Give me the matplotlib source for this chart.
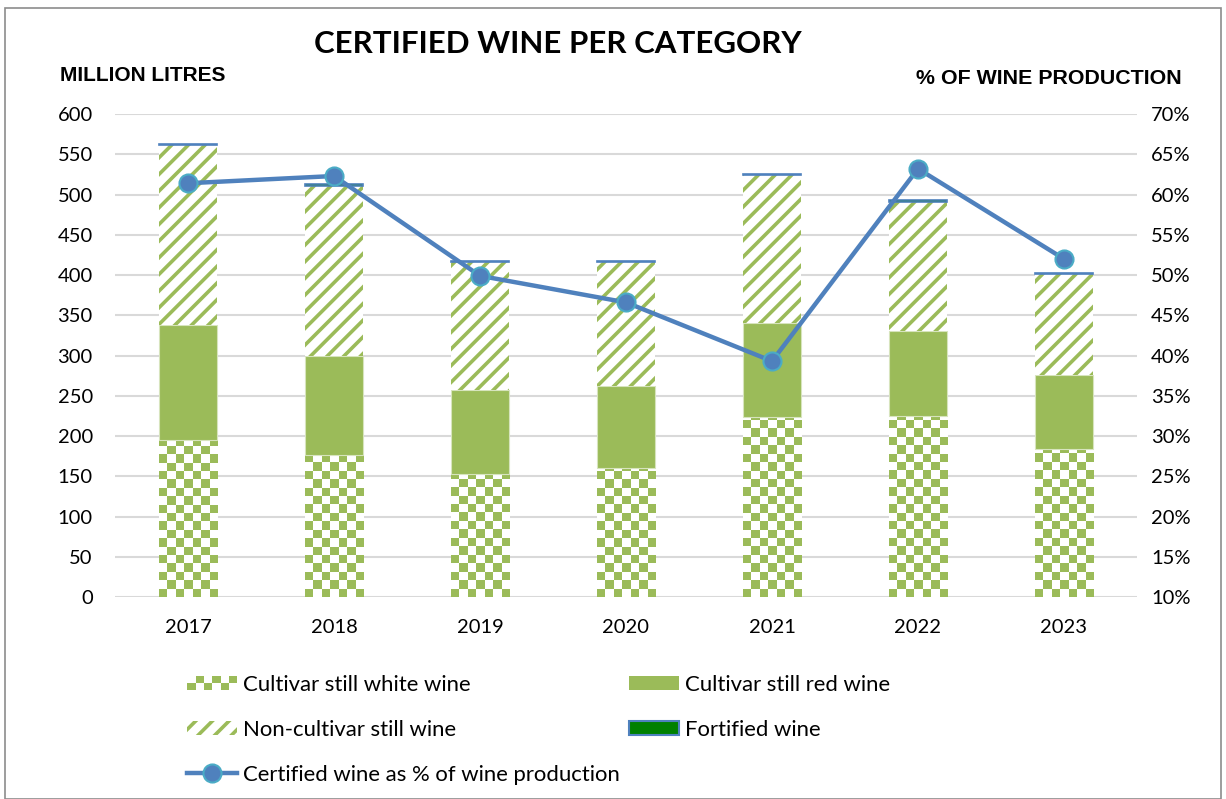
import numpy as np
import matplotlib
matplotlib.use("Agg")
import matplotlib.pyplot as plt
from matplotlib.patches import Rectangle, Patch
from matplotlib.lines import Line2D
from matplotlib.legend_handler import HandlerBase

# data (million litres / %)
years = ["2017", "2018", "2019", "2020", "2021", "2022", "2023"]
white = [195, 176, 153, 160, 224, 225, 184]
red = [143, 124, 104, 102, 116, 105, 92]
noncult = [223, 211, 159, 154, 184, 161, 125]
fortified = [2, 2, 2, 2, 2, 2, 2]
pct = [61.4, 62.3, 49.9, 46.6, 39.3, 63.2, 52.0]

GREEN = "#9BBB59"
BLUE = "#4F81BD"
plt.rcParams['font.family'] = ['Lato', 'DejaVu Sans']
plt.rcParams['hatch.linewidth'] = 2.6

fig = plt.figure(figsize=(12.26, 7.99), dpi=100)
ax = fig.add_axes([0.0938, 0.2528, 0.8336, 0.6045])
ax2 = ax.twinx()

x = np.arange(len(years))
w = 0.40
white = np.array(white); red = np.array(red); noncult = np.array(noncult)

# white wine bars with checker pattern drawn in
px_per_unit = 483 / 600.0
cell = 8.4
for xi, h in zip(x, white):
    bar = Rectangle((xi - w / 2, 0), w, h, facecolor="white", edgecolor="none")
    ax.add_patch(bar)
    nx = 7
    ny = int(np.ceil(h * px_per_unit / cell))
    chk = (np.add.outer(np.arange(ny), np.arange(nx)) % 2).astype(float)
    img = np.ones((ny, nx, 3))
    g = np.array(matplotlib.colors.to_rgb(GREEN))
    img[chk == 0] = g
    im = ax.imshow(img, extent=(xi - w / 2, xi + w / 2, 0, ny * cell / px_per_unit),
                   origin="lower", interpolation="nearest", aspect="auto", zorder=2)
    im.set_clip_path(bar)

ax.bar(x, red, w, bottom=white, color=GREEN, edgecolor="#D7E4BD", linewidth=0.8, zorder=2)
ax.bar(x, noncult, w, bottom=white + red, color="white", edgecolor=GREEN,
       linewidth=0, hatch="//", zorder=2)
ax.bar(x, fortified, w, bottom=white + red + noncult, color="#008000",
       edgecolor=BLUE, linewidth=1.2, zorder=2)

ax.set_xlim(-0.5, len(years) - 0.5)
ax.set_ylim(0, 600)
ax.set_yticks(range(0, 601, 50))
ax.set_xticks(x)
ax.set_xticklabels(years)
ax.grid(axis="y", color="#D9D9D9", linewidth=1.5, zorder=0)
ax.set_axisbelow(True)

ax2.plot(x, pct, color=BLUE, linewidth=3.2, marker="o", markersize=13,
         markerfacecolor=BLUE, markeredgecolor="#4BACC6", markeredgewidth=1.5, zorder=5)
ax2.set_ylim(10, 70)
ax2.set_yticks(range(10, 71, 5))
ax2.set_yticklabels(["%d%%" % v for v in range(10, 71, 5)])

for a in (ax, ax2):
    for s in a.spines.values():
        s.set_visible(False)
    a.tick_params(length=0, labelsize=14.5, colors="black")
ax.tick_params(axis="y", pad=16)
ax.tick_params(axis="x", pad=16)
ax2.tick_params(axis="y", pad=10)

fig.text(0.455, 0.945, "CERTIFIED WINE PER CATEGORY", ha="center", va="center",
         fontsize=22.5, fontweight="bold")
fig.text(0.049, 0.906, "MILLION LITRES", ha="left", va="center", fontsize=15,
         fontweight="bold", family=["Liberation Sans", "DejaVu Sans"])
fig.text(0.964, 0.902, "% OF WINE PRODUCTION", ha="right", va="center", fontsize=15.4,
         fontweight="bold", family=["Liberation Sans", "DejaVu Sans"])

# figure border
fig.patches.append(Rectangle((0.004, 0.0), 0.992, 0.99, transform=fig.transFigure,
                             fill=False, edgecolor="#8C8C8C", linewidth=1.2))


class CheckerHandler(HandlerBase):
    def create_artists(self, legend, orig_handle, xdescent, ydescent, width, height,
                       fontsize, trans):
        arts = []
        nx, ny = 6, 2
        cw, ch = width / nx, height / ny
        for i in range(nx):
            for j in range(ny):
                c = GREEN if (i + j) % 2 == 0 else "white"
                r = Rectangle((-xdescent + i * cw, -ydescent + j * ch), cw, ch,
                              facecolor=c, edgecolor="none", transform=trans)
                arts.append(r)
        return arts


h_white = Patch(facecolor=GREEN, label="Cultivar still white wine")
h_nc = Patch(facecolor="white", edgecolor=GREEN, linewidth=0, hatch="//",
             label="Non-cultivar still wine")
h_line = Line2D([], [], color=BLUE, linewidth=3.2, marker="o", markersize=13,
                markerfacecolor=BLUE, markeredgecolor="#4BACC6", markeredgewidth=1.5,
                label="Certified wine as % of wine production")
h_red = Patch(facecolor=GREEN, label="Cultivar still red wine")
h_fort = Patch(facecolor="#008000", edgecolor=BLUE, linewidth=1.5, label="Fortified wine")

leg = fig.legend(handles=[h_white, h_nc, h_line, h_red, h_fort], ncol=2,
                 loc="upper left", bbox_to_anchor=(0.1455, 0.1665), frameon=False,
                 fontsize=15.9, handlelength=2.27, handleheight=0.62, handletextpad=0.27,
                 labelspacing=1.13, columnspacing=0.4, borderaxespad=0,
                 handler_map={h_white: CheckerHandler()})

fig.savefig("out.png", dpi=100)
